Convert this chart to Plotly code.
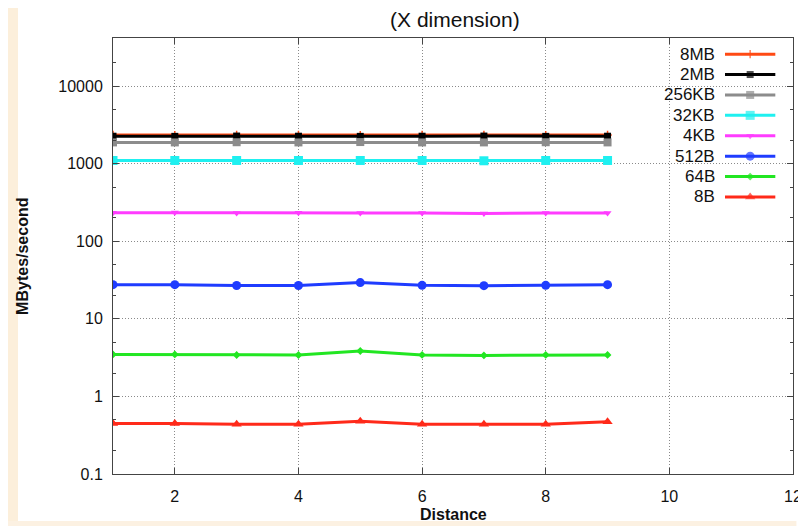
import plotly.graph_objects as go

# ---------------- data ----------------
distance = [1, 2, 3, 4, 5, 6, 7, 8, 9]
series_names = ["8MB", "2MB", "256KB", "32KB", "4KB", "512B", "64B", "8B"]
rate_8MB = [2340, 2330, 2350, 2340, 2330, 2340, 2350, 2330, 2340]
rate_2MB = [2260, 2250, 2270, 2260, 2250, 2260, 2270, 2250, 2260]
rate_256KB = [1880, 1880, 1890, 1880, 1900, 1880, 1880, 1890, 1880]
rate_32KB = [1100, 1100, 1100, 1100, 1100, 1100, 1090, 1100, 1100]
rate_4KB = [233, 234, 232, 233, 232, 231, 228, 231, 232]
rate_512B = [27.6, 27.6, 26.9, 26.9, 29.3, 27.0, 26.8, 27.0, 27.6]
rate_64B = [3.48, 3.48, 3.42, 3.42, 3.85, 3.43, 3.38, 3.43, 3.43]
rate_8B = [0.447, 0.447, 0.437, 0.437, 0.478, 0.437, 0.437, 0.437, 0.472]
series_values = [rate_8MB, rate_2MB, rate_256KB, rate_32KB, rate_4KB,
                 rate_512B, rate_64B, rate_8B]
x_ticks = [2, 4, 6, 8, 10, 12]
y_ticks = [0.1, 1, 10, 100, 1000, 10000]
y_ticktext = ["0.1", "1", "10", "100", "1000", "10000"]

# ---------------- styles ----------------
colors = ["#ff4a14", "#000000", "#8c8c8c", "#1ff0f0", "#ff3cff",
          "#1f3cff", "#22e622", "#ff2a1a"]
symbols = ["cross-thin", "square", "square", "square", "triangle-down",
           "circle", "diamond", "triangle-up"]
msizes = [6, 7, 8, 9, 7, 9, 6, 9]
FONT = "Liberation Sans, Arial, Helvetica, sans-serif"

fig = go.Figure()

for name, vals, c, s, ms in zip(series_names, series_values, colors, symbols, msizes):
    fig.add_trace(go.Scatter(
        x=distance, y=vals, name=name, mode="lines+markers",
        line=dict(color=c, width=3),
        marker=dict(symbol=s, size=ms, color=c, line=dict(color=c, width=1.5 if s == "cross-thin" else 0)),
        xaxis="x", yaxis="y", showlegend=False))

# ---------------- custom key (gnuplot style: text left of sample) ----------------
key_top = 0.963
key_step = 0.0468
key_x0, key_xm, key_x1 = 0.900, 0.937, 0.974
annotations = []
for i, (name, c, s, ms) in enumerate(zip(series_names, colors, symbols, msizes)):
    ky = key_top - i * key_step
    fig.add_trace(go.Scatter(
        x=[key_x0, key_xm, key_x1], y=[ky, ky, ky], mode="lines+markers",
        line=dict(color=c, width=3),
        marker=dict(symbol=s, size=[0, ms, 0], color=c,
                    line=dict(color=c, width=1.5 if s == "cross-thin" else 0)),
        xaxis="x2", yaxis="y2", showlegend=False, hoverinfo="skip"))
    annotations.append(dict(
        x=0.888, y=ky, xref="paper", yref="paper", text=name, showarrow=False,
        xanchor="right", yanchor="middle", font=dict(family=FONT, size=17, color="#111111")))

annotations.append(dict(
    x=0.5, y=-0.094, xref="paper", yref="paper", text="<b>Distance</b>", showarrow=False,
    xanchor="center", yanchor="middle", font=dict(family=FONT, size=16, color="#111111")))
annotations.append(dict(
    x=-0.134, y=0.5, xref="paper", yref="paper", text="<b>MBytes/second</b>", showarrow=False,
    textangle=-90, xanchor="center", yanchor="middle", font=dict(family=FONT, size=16, color="#111111")))

shapes = [
    # key background
    dict(type="rect", xref="paper", yref="paper", x0=0.728, x1=1.0, y0=0.612, y1=1.0,
         fillcolor="white", line=dict(width=0), layer="between"),
    # cream page edges
    dict(type="rect", xref="paper", yref="paper", x0=-0.16, x1=-0.1397, y0=-0.125, y1=1.09,
         fillcolor="#fcefdb", line=dict(width=0), layer="below"),
    dict(type="rect", xref="paper", yref="paper", x0=-0.16, x1=1.005, y0=-0.125, y1=-0.108,
         fillcolor="#fcf1e2", line=dict(width=0), layer="below"),
]

axis_common = dict(
    showline=True, linecolor="#444444", linewidth=1, mirror="ticks",
    ticks="inside", ticklen=6, tickcolor="#444444", tickwidth=1,
    showgrid=True, gridcolor="#8a8a8a", griddash="1px,2px", gridwidth=1,
    zeroline=False, automargin=False,
    tickfont=dict(family=FONT, size=16, color="#111111"),
)

fig.update_layout(
    template="none",
    width=798, height=518,
    margin=dict(l=105, r=13, t=30, b=52, autoexpand=False),
    paper_bgcolor="white", plot_bgcolor="white",
    showlegend=False,
    title=dict(text="(X dimension)", x=0.560, xanchor="center", y=0.977, yanchor="middle",
               font=dict(family=FONT, size=21, color="#111111")),
    xaxis=dict(range=[1, 12], tickmode="array", tickvals=x_ticks, ticktext=[str(v) for v in x_ticks],
               ticklabelstandoff=8, **axis_common),
    yaxis=dict(type="log", range=[-1, 4.62], tickmode="array", tickvals=y_ticks, ticktext=y_ticktext,
               ticklabelstandoff=6,
               minor=dict(ticks="inside", ticklen=3, tickcolor="#444444", dtick="D2", showgrid=False),
               **axis_common),
    xaxis2=dict(overlaying="x", range=[0, 1], visible=False, fixedrange=True),
    yaxis2=dict(overlaying="y", range=[0, 1], visible=False, fixedrange=True),
    annotations=annotations,
    shapes=shapes,
)

fig.write_html("out.html")
